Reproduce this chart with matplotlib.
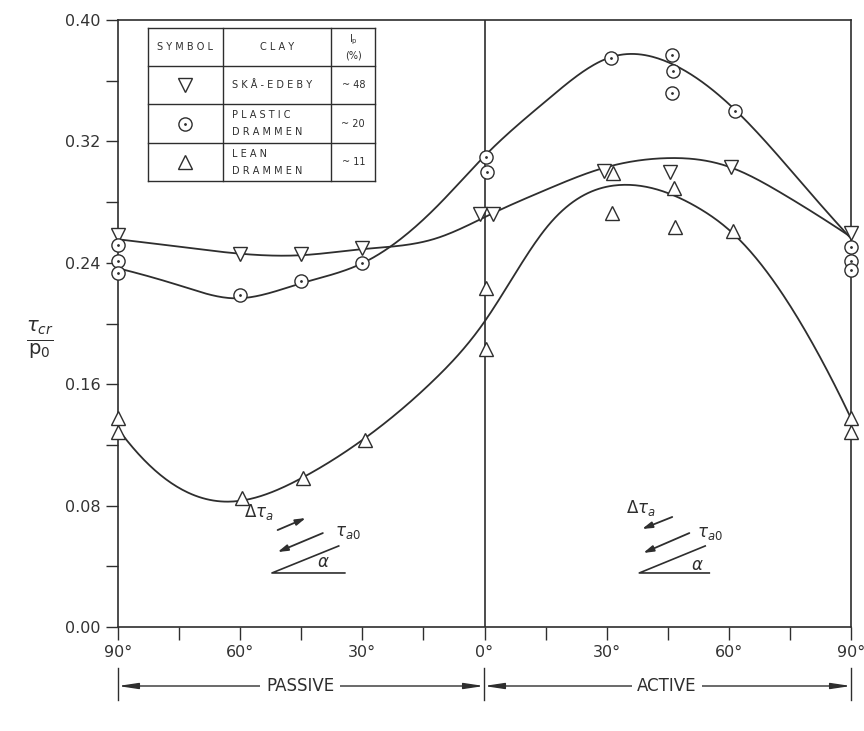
import numpy as np
import matplotlib
matplotlib.use("Agg")
import matplotlib.pyplot as plt

# measured points (angle: passive < 0 < active, tau_cr / p0)
ske_x = [-90, -60, -45, -30, -1, 2, 29.3, 45.5, 60.5, 90]
ske_y = [0.258, 0.246, 0.246, 0.2495, 0.272, 0.272, 0.3007, 0.300, 0.303, 0.2594]

pla_x = [-90, -90, -90, -60, -45, -30, 0.4, 0.6, 31, 46, 46.3, 46, 61.5, 90, 90, 90]
pla_y = [0.2517, 0.2412, 0.2335, 0.2188, 0.2282, 0.2397, 0.3095, 0.2996,
         0.3752, 0.3769, 0.3666, 0.3521, 0.3402, 0.2506, 0.2414, 0.2353]

lean_x = [-90, -90, -59.5, -44.5, -29.4, 0.4, 0.3, 31.5, 31.3, 46.5, 46.7, 61, 90, 90]
lean_y = [0.1375, 0.1283, 0.0848, 0.098, 0.1232, 0.2232, 0.183, 0.2994,
          0.273, 0.289, 0.2634, 0.2612, 0.1375, 0.1283]

# hand-drawn fitted curves, knots
ske_cx = [-90, -75, -60, -45, -30, -12, 2, 15, 29, 44, 60, 73, 90]
ske_cy = [0.2555, 0.2506, 0.246, 0.245, 0.249, 0.256, 0.2726, 0.288, 0.3023,
          0.3089, 0.3033, 0.2858, 0.257]

pla_cx = [-90, -74, -61.5, -45, -30, -11, 0.7, 15.4, 30.9, 44.8, 62, 80.8, 90]
pla_cy = [0.2364, 0.2243, 0.2166, 0.2265, 0.2397, 0.279, 0.3122, 0.3473, 0.3754,
          0.3725, 0.3396, 0.2836, 0.256]

lean_cx = [-89, -78, -63, -45, -30, -12.4, 0, 15.4, 33.4, 52, 61, 81, 90]
lean_cy = [0.127, 0.0969, 0.0826, 0.098, 0.1232, 0.1628, 0.2012, 0.2638, 0.2913,
           0.277, 0.2594, 0.1847, 0.1375]

xticks = [-90, -60, -30, 0, 30, 60, 90]
xlabels = ['90°', '60°', '30°', '0°', '30°', '60°', '90°']
yticks = [0.00, 0.08, 0.16, 0.24, 0.32, 0.40]

ink = '#2e2e2e'


def spline(xk, yk, n=400):
    # cubic spline through the knots, parabolic run-out at both ends
    xk = np.asarray(xk, float)
    yk = np.asarray(yk, float)
    m = len(xk)
    h = np.diff(xk)
    A = np.zeros((m, m))
    r = np.zeros(m)
    A[0, 0], A[0, 1] = 1, -1
    A[-1, -1], A[-1, -2] = 1, -1
    for i in range(1, m - 1):
        A[i, i - 1] = h[i - 1]
        A[i, i] = 2 * (h[i - 1] + h[i])
        A[i, i + 1] = h[i]
        r[i] = 6 * ((yk[i + 1] - yk[i]) / h[i] - (yk[i] - yk[i - 1]) / h[i - 1])
    M = np.linalg.solve(A, r)
    xs = np.linspace(xk[0], xk[-1], n)
    idx = np.clip(np.searchsorted(xk, xs) - 1, 0, m - 2)
    x0, x1 = xk[idx], xk[idx + 1]
    hh = x1 - x0
    a = (x1 - xs) / hh
    b = (xs - x0) / hh
    ys = (a * yk[idx] + b * yk[idx + 1]
          + ((a ** 3 - a) * M[idx] + (b ** 3 - b) * M[idx + 1]) * hh ** 2 / 6)
    return xs, ys


fig = plt.figure(figsize=(8.64, 7.31), dpi=100)
ax = fig.add_axes([118 / 864, 104 / 731, 733 / 864, 607 / 731])

for cx, cy in [(ske_cx, ske_cy), (pla_cx, pla_cy), (lean_cx, lean_cy)]:
    xs, ys = spline(cx, cy)
    ax.plot(xs, ys, color=ink, lw=1.3, zorder=2)

ax.axvline(0, color=ink, lw=1.2, zorder=1)

mk = dict(linestyle='none', mfc='white', mec=ink, mew=1.0, ms=9.5, clip_on=False, zorder=3)
ax.plot(ske_x, ske_y, marker='v', **mk)
ax.plot(pla_x, pla_y, marker='o', **mk)
ax.plot(pla_x, pla_y, linestyle='none', marker='.', color=ink, ms=2, clip_on=False, zorder=4)
ax.plot(lean_x, lean_y, marker='^', **mk)

ax.set_xlim(-90, 90)
ax.set_ylim(0, 0.40)
ax.set_xticks(xticks)
ax.set_xticklabels(xlabels)
ax.set_xticks(np.arange(-75, 90, 30), minor=True)
ax.set_yticks(yticks)
ax.set_yticklabels(['%.2f' % v for v in yticks])
ax.set_yticks([0.04, 0.12, 0.20, 0.28, 0.36], minor=True)
ax.tick_params(which='both', direction='out', length=9, width=1.0, color=ink,
               labelsize=11.5, labelcolor='#333333')
ax.tick_params(axis='x', pad=4)
for s in ax.spines.values():
    s.set_color(ink)
    s.set_linewidth(1.2)

# y label as a fraction
fig.text(40 / 864, 1 - 340 / 731, r'$\frac{\tau_{cr}}{\mathrm{p_0}}$', fontsize=20,
         ha='center', va='center', color=ink)

# legend table
T = ax.transAxes
tl, tc1, tc2, tr = 0.041, 0.143, 0.291, 0.351
rows = [0.987, 0.924, 0.861, 0.797, 0.734]
for yv in rows:
    ax.plot([tl, tr], [yv, yv], transform=T, color=ink, lw=1.0, zorder=5)
for xv in [tl, tc1, tc2, tr]:
    ax.plot([xv, xv], [rows[0], rows[-1]], transform=T, color=ink, lw=1.0, zorder=5)
ax.fill_between([tl, tr], rows[-1], rows[0], transform=T, color='white', zorder=4)

tk = dict(transform=T, fontsize=7, color=ink, zorder=6, va='center')
ax.text((tl + tc1) / 2, (rows[0] + rows[1]) / 2, 'S Y M B O L', ha='center', **tk)
ax.text((tc1 + tc2) / 2, (rows[0] + rows[1]) / 2, 'C L A Y', ha='center', **tk)
ax.text((tc2 + tr) / 2, 0.967, r'$\mathrm{I_p}$', ha='center', **tk)
ax.text((tc2 + tr) / 2, 0.942, '(%)', ha='center', **tk)
clays = [['S K Å - E D E B Y'], ['P L A S T I C', 'D R A M M E N'], ['L E A N', 'D R A M M E N']]
ip = ['~ 48', '~ 20', '~ 11']
syms = ['v', 'o', '^']
for i in range(3):
    yc = (rows[i + 1] + rows[i + 2]) / 2
    ax.plot([(tl + tc1) / 2], [yc], marker=syms[i], transform=T, mfc='white',
            mec=ink, mew=1.0, ms=9.5, zorder=6)
    if syms[i] == 'o':
        ax.plot([(tl + tc1) / 2], [yc], marker='.', transform=T, color=ink, ms=2, zorder=7)
    lines = clays[i]
    if len(lines) == 1:
        ax.text(tc1 + 0.013, yc, lines[0], ha='left', **tk)
    else:
        ax.text(tc1 + 0.013, yc + 0.014, lines[0], ha='left', **tk)
        ax.text(tc1 + 0.013, yc - 0.014, lines[1], ha='left', **tk)
    ax.text((tc2 + tr) / 2, yc, ip[i], ha='center', **tk)

# loading sketches
arr = dict(arrowstyle='-|>,head_length=0.6,head_width=0.18', color=ink, lw=1.3,
           shrinkA=0, shrinkB=0)
txt = dict(fontsize=12, color=ink, ha='center', va='center')
# passive side
ax.text(-55.4, 0.0758, r'$\Delta\tau_a$', **txt)
ax.annotate('', xy=(-43.9, 0.0718), xytext=(-50.8, 0.0639), arrowprops=arr)
ax.text(-33.6, 0.0626, r'$\tau_{a0}$', **txt)
ax.annotate('', xy=(-50.8, 0.0494), xytext=(-39.7, 0.0619), arrowprops=arr)
ax.plot([-35.8, -52.2, -34.3], [0.0534, 0.0356, 0.0356], color=ink, lw=1.2)
ax.text(-39.5, 0.0428, r'$\alpha$', **txt)
# active side
ax.text(38.3, 0.0784, r'$\Delta\tau_a$', **txt)
ax.annotate('', xy=(38.7, 0.0646), xytext=(46.1, 0.0725), arrowprops=arr)
ax.text(55.4, 0.0619, r'$\tau_{a0}$', **txt)
ax.annotate('', xy=(39.0, 0.0488), xytext=(50.3, 0.0619), arrowprops=arr)
ax.plot([54.2, 38.0, 55.2], [0.0534, 0.0356, 0.0356], color=ink, lw=1.2)
ax.text(52.2, 0.0409, r'$\alpha$', **txt)

# passive / active brackets below the axis
yb = 1 - 686 / 731
F = fig.transFigure
for px in [118, 484, 851]:
    fig.add_artist(plt.Line2D([px / 864, px / 864], [1 - 668 / 731, 1 - 700 / 731],
                              color=ink, lw=1.0))
barr = dict(arrowstyle='<|-|>,head_length=1.2,head_width=0.18', color=ink, lw=1.0,
            shrinkA=0, shrinkB=0, mutation_scale=10)
for a, b, lab, mid in [(118, 484, 'PASSIVE', 300), (484, 851, 'ACTIVE', 667)]:
    fig.add_artist(matplotlib.patches.FancyArrowPatch((a / 864, yb), (b / 864, yb),
                                                      transform=F, **barr))
    fig.text(mid / 864, yb, lab, ha='center', va='center', fontsize=12, color=ink,
             bbox=dict(fc='white', ec='none', pad=4))

fig.savefig('out.png', dpi=100, facecolor='white')
